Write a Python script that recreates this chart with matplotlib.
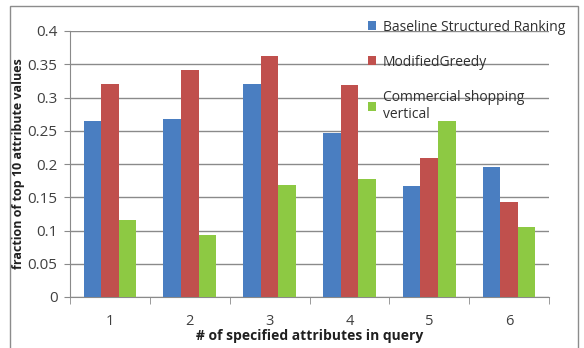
import matplotlib.pyplot as plt
import numpy as np
from matplotlib.patches import Rectangle

# fraction of top-10 attribute values, by number of attributes in the query
categories = ["1", "2", "3", "4", "5", "6"]
baseline = [0.265, 0.267, 0.320, 0.247, 0.167, 0.196]
modified_greedy = [0.320, 0.342, 0.363, 0.319, 0.209, 0.143]
commercial = [0.116, 0.093, 0.168, 0.177, 0.265, 0.106]
series_names = ["Baseline Structured Ranking", "ModifiedGreedy",
                "Commercial shopping\nvertical"]
yticks = [0, 0.05, 0.1, 0.15, 0.2, 0.25, 0.3, 0.35, 0.4]
ytick_labels = ["0", "0.05", "0.1", "0.15", "0.2", "0.25", "0.3", "0.35", "0.4"]

colors = ["#4A7EC1", "#C0504D", "#8DC943"]
font = "Open Sans"

W, H = 584, 348
fig = plt.figure(figsize=(W / 100, H / 100), dpi=100)
fig.patch.set_facecolor("white")

# chart border (runs off the bottom edge)
fig.add_artist(Rectangle((10 / W, -0.05), 568 / W, 1.05 - 6 / H,
                         transform=fig.transFigure, fill=False,
                         edgecolor="#8c8c8c", linewidth=1.0))

ax = fig.add_axes([70 / W, 1 - 297 / H, 479 / W, 266 / H])

x = np.arange(len(categories))
width = 0.22
for i, (vals, c, name) in enumerate(zip([baseline, modified_greedy, commercial],
                                        colors, series_names)):
    ax.bar(x + (i - 1) * width, vals, width, color=c, label=name, zorder=3)

ax.set_xlim(-0.5, len(categories) - 0.5)
ax.set_ylim(0, 0.4)
ax.set_yticks(yticks)
ax.set_yticklabels(ytick_labels)
ax.set_xticks(x)
ax.set_xticklabels(categories)
ax.set_xticks(np.arange(-0.5, len(categories)), minor=True)

ax.grid(axis="y", color="#8a8a8a", linewidth=1.0, zorder=0)
for side in ["top", "right"]:
    ax.spines[side].set_visible(False)
ax.spines["left"].set_color("#8a8a8a")
ax.spines["bottom"].set_color("#8a8a8a")

ax.tick_params(axis="y", length=4, color="#8a8a8a", labelsize=11,
               labelcolor="#404040", pad=5)
ax.tick_params(axis="x", which="major", length=0, labelsize=10.5,
               labelcolor="#404040", pad=12)
ax.tick_params(axis="x", which="minor", length=5, color="#8a8a8a")
for lab in ax.get_xticklabels() + ax.get_yticklabels():
    lab.set_fontfamily(font)

ax.set_xlabel("# of specified attributes in query", fontsize=10,
              fontweight="bold", family=font, color="#202020", labelpad=0)
ax.set_ylabel("fraction of top 10 attribute values", fontsize=9,
              fontweight="bold", family=font, color="#202020")
ax.yaxis.set_label_coords(-0.094, 0.5)

leg = ax.legend(loc="upper left", bbox_to_anchor=(0.595, 1.09), frameon=False,
                prop={"family": font, "size": 10}, handlelength=0.6,
                handleheight=0.6, handletextpad=0.5, labelspacing=1.45,
                labelcolor="#303030")

fig.savefig("out.png", dpi=100)
